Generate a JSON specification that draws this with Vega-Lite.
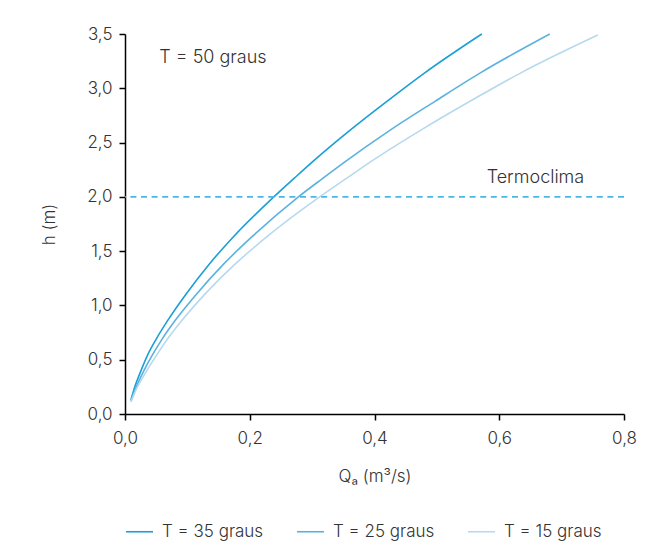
{
  "$schema": "https://vega.github.io/schema/vega-lite/v6.json",
  "width": 499,
  "height": 380,
  "autosize": "none",
  "padding": {"left": 125, "top": 34, "right": 31, "bottom": 137},
  "background": "white",
  "config": {
    "view": {"stroke": null},
    "font": "Inter",
    "axis": {
      "domainColor": "#000000",
      "domainWidth": 1.5,
      "tickColor": "#000000",
      "tickWidth": 1.5,
      "tickSize": 6,
      "grid": false,
      "labelFlush": false,
      "labelFont": "Inter",
      "labelFontWeight": 300,
      "labelFontSize": 17,
      "labelColor": "#333333",
      "titleFont": "Inter",
      "titleFontWeight": 300,
      "titleFontSize": 17,
      "titleColor": "#333333"
    },
    "legend": {
      "labelFont": "Inter",
      "labelFontWeight": 300,
      "labelFontSize": 17,
      "labelColor": "#333333"
    }
  },
  "datasets": {
    "curves": [
      {"serie": "T = 35 graus", "Q": 0.0095, "h": 0.13},
      {"serie": "T = 35 graus", "Q": 0.014, "h": 0.22},
      {"serie": "T = 35 graus", "Q": 0.025, "h": 0.39},
      {"serie": "T = 35 graus", "Q": 0.036, "h": 0.54},
      {"serie": "T = 35 graus", "Q": 0.05, "h": 0.69},
      {"serie": "T = 35 graus", "Q": 0.068, "h": 0.858},
      {"serie": "T = 35 graus", "Q": 0.096, "h": 1.09},
      {"serie": "T = 35 graus", "Q": 0.135, "h": 1.38},
      {"serie": "T = 35 graus", "Q": 0.175, "h": 1.64},
      {"serie": "T = 35 graus", "Q": 0.2386, "h": 2.0},
      {"serie": "T = 35 graus", "Q": 0.271, "h": 2.17},
      {"serie": "T = 35 graus", "Q": 0.3, "h": 2.32},
      {"serie": "T = 35 graus", "Q": 0.36, "h": 2.61},
      {"serie": "T = 35 graus", "Q": 0.42, "h": 2.88},
      {"serie": "T = 35 graus", "Q": 0.48, "h": 3.14},
      {"serie": "T = 35 graus", "Q": 0.572, "h": 3.5},
      {"serie": "T = 25 graus", "Q": 0.0095, "h": 0.12},
      {"serie": "T = 25 graus", "Q": 0.016, "h": 0.22},
      {"serie": "T = 25 graus", "Q": 0.0295, "h": 0.39},
      {"serie": "T = 25 graus", "Q": 0.0435, "h": 0.54},
      {"serie": "T = 25 graus", "Q": 0.0595, "h": 0.69},
      {"serie": "T = 25 graus", "Q": 0.08, "h": 0.858},
      {"serie": "T = 25 graus", "Q": 0.1125, "h": 1.09},
      {"serie": "T = 25 graus", "Q": 0.158, "h": 1.38},
      {"serie": "T = 25 graus", "Q": 0.205, "h": 1.64},
      {"serie": "T = 25 graus", "Q": 0.278, "h": 2.0},
      {"serie": "T = 25 graus", "Q": 0.317, "h": 2.17},
      {"serie": "T = 25 graus", "Q": 0.352, "h": 2.32},
      {"serie": "T = 25 graus", "Q": 0.424, "h": 2.61},
      {"serie": "T = 25 graus", "Q": 0.497, "h": 2.88},
      {"serie": "T = 25 graus", "Q": 0.569, "h": 3.14},
      {"serie": "T = 25 graus", "Q": 0.681, "h": 3.5},
      {"serie": "T = 15 graus", "Q": 0.0095, "h": 0.11},
      {"serie": "T = 15 graus", "Q": 0.0175, "h": 0.22},
      {"serie": "T = 15 graus", "Q": 0.034, "h": 0.39},
      {"serie": "T = 15 graus", "Q": 0.0505, "h": 0.54},
      {"serie": "T = 15 graus", "Q": 0.068, "h": 0.69},
      {"serie": "T = 15 graus", "Q": 0.0907, "h": 0.858},
      {"serie": "T = 15 graus", "Q": 0.126, "h": 1.09},
      {"serie": "T = 15 graus", "Q": 0.1765, "h": 1.38},
      {"serie": "T = 15 graus", "Q": 0.229, "h": 1.64},
      {"serie": "T = 15 graus", "Q": 0.312, "h": 2.0},
      {"serie": "T = 15 graus", "Q": 0.355, "h": 2.17},
      {"serie": "T = 15 graus", "Q": 0.393, "h": 2.32},
      {"serie": "T = 15 graus", "Q": 0.473, "h": 2.61},
      {"serie": "T = 15 graus", "Q": 0.553, "h": 2.88},
      {"serie": "T = 15 graus", "Q": 0.634, "h": 3.14},
      {"serie": "T = 15 graus", "Q": 0.758, "h": 3.49}
    ]
  },
  "layer": [
    {
      "data": {"name": "curves"},
      "mark": {"type": "line", "interpolate": "monotone", "strokeWidth": 1.6},
      "encoding": {
        "x": {
          "field": "Q",
          "type": "quantitative",
          "scale": {"domain": [0, 0.8], "nice": false, "zero": false},
          "axis": {
            "values": [0, 0.2, 0.4, 0.6, 0.8],
            "labelExpr": "replace(format(datum.value, '.1f'), '.', ',')",
            "title": "Qₐ (m³/s)",
            "labelPadding": 10,
            "titlePadding": 22
          }
        },
        "y": {
          "field": "h",
          "type": "quantitative",
          "scale": {"domain": [0, 3.5], "nice": false},
          "axis": {
            "values": [0, 0.5, 1, 1.5, 2, 2.5, 3, 3.5],
            "labelExpr": "replace(format(datum.value, '.1f'), '.', ',')",
            "title": "h (m)",
            "labelPadding": 7,
            "titlePadding": 28
          }
        },
        "color": {
          "field": "serie",
          "type": "nominal",
          "scale": {
            "domain": ["T = 35 graus", "T = 25 graus", "T = 15 graus"],
            "range": ["#1a9fd6", "#5cb2df", "#b7d9ef"]
          },
          "legend": {
            "title": null,
            "orient": "none",
            "direction": "horizontal",
            "legendX": 0,
            "legendY": 483,
            "symbolType": "stroke",
            "symbolSize": 730,
            "symbolStrokeWidth": 1.6,
            "columnPadding": 29,
            "labelOffset": 8
          }
        }
      }
    },
    {
      "data": {"values": [{"h": 2.0}]},
      "mark": {"type": "rule", "color": "#4bb7e3", "strokeWidth": 1.6, "strokeDash": [6, 4.6]},
      "encoding": {"y": {"field": "h", "type": "quantitative"}}
    },
    {
      "data": {"values": [{"Q": 0.055, "h": 3.28, "label": "T = 50 graus"}]},
      "mark": {"type": "text", "align": "left", "baseline": "middle", "fontSize": 18, "fontWeight": 300, "color": "#333333", "font": "Inter"},
      "encoding": {
        "x": {"field": "Q", "type": "quantitative"},
        "y": {"field": "h", "type": "quantitative"},
        "text": {"field": "label"}
      }
    },
    {
      "data": {"values": [{"Q": 0.658, "h": 2.17, "label": "Termoclima"}]},
      "mark": {"type": "text", "align": "center", "baseline": "middle", "fontSize": 18, "fontWeight": 300, "color": "#333333", "font": "Inter"},
      "encoding": {
        "x": {"field": "Q", "type": "quantitative"},
        "y": {"field": "h", "type": "quantitative"},
        "text": {"field": "label"}
      }
    }
  ]
}
